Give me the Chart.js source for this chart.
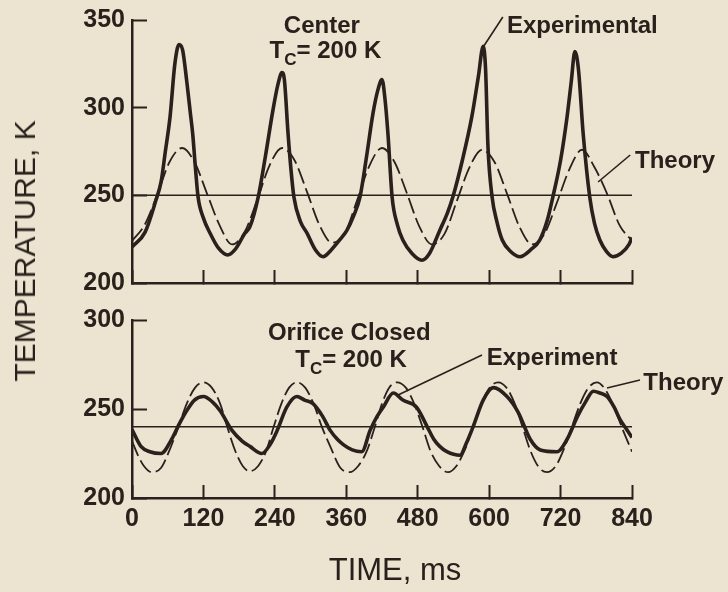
<!DOCTYPE html>
<html>
<head>
<meta charset="utf-8">
<script src="https://cdn.jsdelivr.net/npm/chart.js@4.4.1/dist/chart.umd.min.js"></script>
<style>
body { margin: 0; background: #ece4d1; }
#page { position: relative; width: 728px; height: 592px; background: #ece4d1; overflow: hidden;
        font-family: "Liberation Sans", Arial, sans-serif; color: #2a201c; }
.panel { position: absolute; left: 0; width: 728px; }
#y-title { position: absolute; left: 25px; top: 251px; transform: translate(-50%, -50%) rotate(-90deg);
           font-size: 30px; white-space: nowrap; }
#x-title { position: absolute; left: 395px; top: 570px; transform: translate(-50%, -50%);
           font-size: 31px; white-space: nowrap; }
</style>
</head>
<body>
<div id="page">
  <div class="panel" style="top:0;height:300px"><canvas id="center-chart"></canvas></div>
  <div class="panel" style="top:300px;height:292px"><canvas id="orifice-chart"></canvas></div>
  <div id="y-title">TEMPERATURE, K</div>
  <div id="x-title">TIME, ms</div>
</div>
<script>
const ink = '#2a201c';

// time axis (ms) and temperature ticks (K)
const timeTicks = [0, 120, 240, 360, 480, 600, 720, 840];
const centerTempTicks = [200, 250, 300, 350];
const orificeTempTicks = [200, 250, 300];

// Center, Tc = 200 K : measured trace
const centerExpTime = [0, 22, 40, 49, 56, 64, 72, 79, 85, 92, 98, 102, 106, 111, 120, 131, 145, 161, 173, 190,
    198, 212, 224, 237, 245, 252, 256, 262, 267, 272, 283, 294, 308, 321, 335, 350,
    361, 372, 383, 394, 405, 413, 420, 425, 430, 437, 446, 455, 470, 487, 500, 517,
    530, 539, 555, 571, 582, 590, 594, 598, 605, 613, 622, 636, 652, 670, 685,
    697, 707, 720, 731, 738, 744, 750, 758, 769, 777, 786, 797, 808, 822, 835, 840];
const centerExpTemp = [220.5, 229, 247, 258, 275, 295, 325, 336, 333, 315, 297, 285, 268, 249, 237, 228.5, 220, 216, 219, 228.5,
    232, 249, 272, 299, 313, 320, 316, 286, 265, 249, 235, 228.5, 219, 215, 219, 225,
    230, 238, 249, 272, 297, 310, 316, 305, 285, 249, 233, 224.5, 217, 213, 217, 230,
    240, 249, 270, 295, 318, 335, 322, 278, 249, 235, 224.5, 218, 215, 219, 224.5,
    235, 249, 270, 295, 315, 332, 322, 285, 249, 234, 224.5, 218, 215, 217, 222, 226];

// Center : theory
const centerTheoryTime = [0, 21, 42, 63, 84, 105, 126, 147, 168, 189, 210, 231, 252, 273, 294, 315, 336,
    357, 378, 399, 420, 441, 462, 483, 504, 525, 546, 567, 588, 609, 630, 651, 672,
    693, 714, 735, 756, 777, 798, 819, 840];
const centerTheoryTemp = [224, 233, 250, 269, 277, 269, 251, 233, 222, 229, 247, 267, 277, 270, 252, 233, 223,
    228, 247, 267, 277, 269, 251, 232, 222, 228, 247, 266, 276, 269, 251, 232, 222,
    228, 246, 265, 276, 266, 251, 233, 224];

// Orifice closed, Tc = 200 K : measured trace
const orificeExpTime = [0, 15, 30, 49, 66, 77, 90, 105, 120, 135, 148, 168, 185, 198, 218, 232, 244, 260, 277, 290,
    304, 320, 333, 345, 355, 370, 386, 400, 412, 422, 439, 455, 478, 496, 507, 517, 529, 551,
    562, 573, 590, 607, 630, 649, 669, 686, 714, 731, 748, 762, 775, 786, 798, 810, 820, 830, 840];
const orificeExpTemp = [238.5, 229, 226, 225, 232.6, 240, 248, 255, 257, 254, 249, 238, 232, 229, 225, 230, 238, 251, 257, 255,
    253, 246, 238, 233, 230, 227, 226, 238, 246, 251, 259, 255, 251, 240, 233, 229, 226, 224,
    231, 240, 255, 262, 257, 248, 233, 227, 226, 233, 245.5, 254, 260, 259, 257, 251, 244, 239, 234];

// Orifice closed : theory
const orificeTheoryTime = [0, 10, 20, 33, 49, 62, 78, 92, 106, 120, 134, 148, 160, 174, 186, 198, 212, 225, 238, 251,
    264, 277, 291, 305, 319, 333, 350, 366, 380, 394, 408, 420, 432, 445, 460, 474, 488, 502,
    516, 531, 545, 559, 573, 587, 601, 615, 629, 643, 656, 670, 684, 697, 712, 725, 739, 753,
    767, 781, 795, 810, 825, 840];
const orificeTheoryTemp = [232, 224, 218, 214.5, 217, 226, 240, 253, 262, 265, 262, 253, 240, 226, 218, 215, 218, 226, 240, 253,
    262, 265, 262, 253, 240, 229, 217, 214.5, 218, 226, 240, 253, 262, 265, 262, 253, 240, 226,
    218, 214.5, 218, 227, 240, 253, 262, 265, 262, 253, 240, 226, 217, 214.5, 218, 227, 240, 253,
    262, 265, 261, 251, 238, 226];

const centerRefTemp = 250;
const orificeRefTemp = 240;

Chart.defaults.font.family = '"Liberation Sans", Arial, sans-serif';
Chart.defaults.color = ink;

function pairs(xs, ys) {
    return xs.map((x, i) => ({ x: x, y: ys[i] }));
}

function refLine(level) {
    return [{ x: timeTicks[0], y: level }, { x: timeTicks[timeTicks.length - 1], y: level }];
}

// labels and leader lines, placed in data units
function notes(labels, leaders) {
    return {
        id: 'notes',
        afterDatasetsDraw(chart) {
            const ctx = chart.ctx;
            const xs = chart.scales.x, ys = chart.scales.y;
            ctx.save();
            ctx.fillStyle = ink;
            ctx.strokeStyle = ink;
            ctx.lineWidth = 1.6;
            leaders.forEach(l => {
                ctx.beginPath();
                ctx.moveTo(xs.getPixelForValue(l.from[0]), ys.getPixelForValue(l.from[1]));
                ctx.lineTo(xs.getPixelForValue(l.to[0]), ys.getPixelForValue(l.to[1]));
                ctx.stroke();
            });
            ctx.textBaseline = 'alphabetic';
            labels.forEach(n => {
                const parts = n.parts || [{ text: n.text }];
                const fontOf = p => 'bold ' + (p.sub ? 17 : 24) + 'px "Liberation Sans", Arial, sans-serif';
                let width = 0;
                parts.forEach(p => { ctx.font = fontOf(p); width += ctx.measureText(p.text).width; });
                let px = xs.getPixelForValue(n.at[0]);
                const py = ys.getPixelForValue(n.at[1]);
                if (n.align === 'center') px -= width / 2;
                ctx.textAlign = 'left';
                parts.forEach(p => {
                    ctx.font = fontOf(p);
                    ctx.fillText(p.text, px, py + (p.sub ? 7 : 0));
                    px += ctx.measureText(p.text).width;
                });
            });
            ctx.restore();
        }
    };
}

function axes(tempTicks, showTimeLabels, xHeight) {
    return {
        x: {
            type: 'linear',
            min: timeTicks[0],
            max: timeTicks[timeTicks.length - 1],
            afterBuildTicks: s => { s.ticks = timeTicks.map(v => ({ value: v })); },
            afterFit: s => { s.height = xHeight; },
            border: { display: true, color: ink, width: 2.5 },
            grid: { drawOnChartArea: false, tickLength: -13, tickColor: ink, tickWidth: 2 },
            ticks: {
                display: showTimeLabels,
                padding: 19,
                font: { size: 25, weight: 'bold' },
                maxRotation: 0,
                autoSkip: false
            }
        },
        y: {
            type: 'linear',
            min: tempTicks[0],
            max: tempTicks[tempTicks.length - 1],
            afterBuildTicks: s => { s.ticks = tempTicks.map(v => ({ value: v })); },
            // fixed axis width; ticks point inward so the label padding must not grow the chart margins
            afterFit: s => { s.width = 132; s.paddingTop = 0; s.paddingBottom = 0; },
            border: { display: true, color: ink, width: 2.5 },
            grid: { drawOnChartArea: false, tickLength: -15, tickColor: ink, tickWidth: 2 },
            ticks: { padding: 22, font: { size: 25, weight: 'bold' } }
        }
    };
}

function datasets(expT, expV, thT, thV, ref) {
    return [
        {
            data: pairs(expT, expV),
            borderColor: ink,
            borderWidth: 3.6,
            cubicInterpolationMode: 'monotone',
            pointRadius: 0
        },
        {
            data: pairs(thT, thV),
            borderColor: ink,
            borderWidth: 1.8,
            borderDash: [16, 5],
            cubicInterpolationMode: 'monotone',
            pointRadius: 0
        },
        {
            data: refLine(ref),
            borderColor: ink,
            borderWidth: 1.5,
            pointRadius: 0
        }
    ];
}

function baseOptions(tempTicks, showTimeLabels, xHeight) {
    return {
        responsive: true,
        maintainAspectRatio: false,
        animation: false,
        layout: { padding: { left: 0, right: 96, top: 20, bottom: 0 } },
        plugins: { legend: { display: false }, tooltip: { enabled: false } },
        scales: axes(tempTicks, showTimeLabels, xHeight),
        elements: { line: { fill: false } }
    };
}

new Chart(document.querySelector('#center-chart').getContext('2d'), {
    type: 'line',
    data: { datasets: datasets(centerExpTime, centerExpTemp, centerTheoryTime, centerTheoryTemp, centerRefTemp) },
    options: baseOptions(centerTempTicks, false, 17),
    plugins: [notes(
        [
            { text: 'Center', at: [319, 342.6], align: 'center' },
            { parts: [{ text: 'T' }, { text: 'C', sub: true }, { text: '= 200 K' }], at: [325, 328.3], align: 'center' },
            { text: 'Experimental', at: [630, 342.6] },
            { text: 'Theory', at: [845, 265.6] }
        ],
        [
            { from: [623, 351.7], to: [590, 334.6] },
            { from: [837, 273], to: [783, 257.6] }
        ]
    )]
});

new Chart(document.querySelector('#orifice-chart').getContext('2d'), {
    type: 'line',
    data: { datasets: datasets(orificeExpTime, orificeExpTemp, orificeTheoryTime, orificeTheoryTemp, orificeRefTemp) },
    options: baseOptions(orificeTempTicks, true, 94),
    plugins: [notes(
        [
            { text: 'Orifice Closed', at: [365, 288.8], align: 'center' },
            { parts: [{ text: 'T' }, { text: 'C', sub: true }, { text: '= 200 K' }], at: [368, 273.6], align: 'center' },
            { text: 'Experiment', at: [596, 274.7] },
            { text: 'Theory', at: [859, 260.7] }
        ],
        [
            { from: [588, 280.3], to: [447, 257.9] },
            { from: [853.5, 266.3], to: [798, 261.8] }
        ]
    )]
});
</script>
</body>
</html>
